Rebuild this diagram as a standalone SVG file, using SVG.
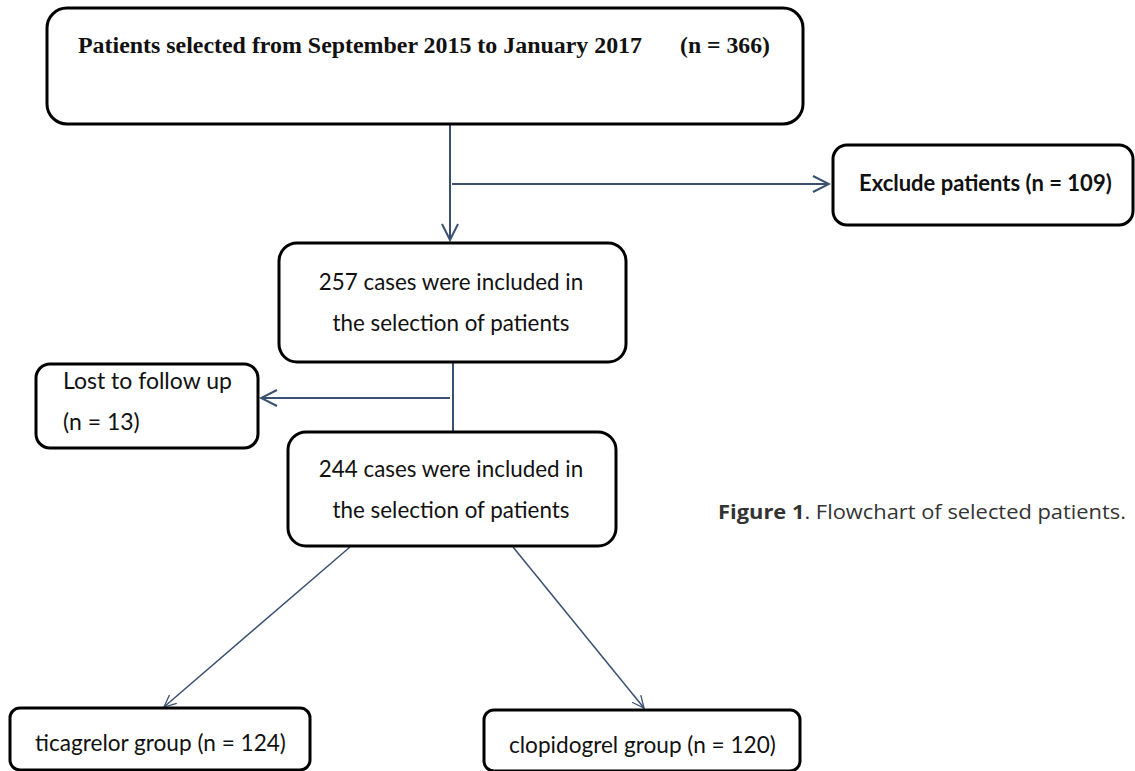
<svg xmlns="http://www.w3.org/2000/svg" width="1135" height="771" viewBox="0 0 1135 771">
<style>
.box{fill:#fff;stroke:#000;stroke-width:3}
.t{font-family:Lato,"Open Sans",sans-serif;fill:#111}
.c{stroke:#3a5070;stroke-width:2;fill:none}
.c2{stroke:#3a5070;stroke-width:1.5;fill:none}
</style>
<defs>
<marker id="ah" viewBox="0 0 20 20" refX="18" refY="10" markerWidth="20" markerHeight="20" markerUnits="userSpaceOnUse" orient="auto">
<path d="M2,2 L18,10 L2,18" fill="none" stroke="#3a5070" stroke-width="2"/>
</marker>
<marker id="ah2" viewBox="0 0 20 20" refX="18" refY="10" markerWidth="16" markerHeight="16" markerUnits="userSpaceOnUse" orient="auto">
<path d="M3,3 L18,10 L3,17" fill="none" stroke="#3a5070" stroke-width="1.6"/>
</marker>
</defs>
<rect width="1135" height="771" fill="#fff"/>
<g id="connectors">
<path class="c" d="M450,124 V240" marker-end="url(#ah)"/>
<path class="c" d="M452,184 H829" marker-end="url(#ah)"/>
<path class="c" d="M453,362 V432"/>
<path class="c" d="M450,398 H261" marker-end="url(#ah)"/>
<path class="c2" d="M350,547 L164,707" marker-end="url(#ah2)"/>
<path class="c2" d="M513,547 L644,708" marker-end="url(#ah2)"/>
</g>
<g id="n1">
<rect class="box" x="47" y="8" width="756" height="116" rx="20"/>
<text x="78" y="53" font-family="Liberation Serif,serif" font-weight="bold" font-size="24" textLength="564" lengthAdjust="spacingAndGlyphs" fill="#111">Patients selected from September 2015 to January 2017</text>
<text x="680" y="53" font-family="Liberation Serif,serif" font-weight="bold" font-size="24" textLength="90" lengthAdjust="spacingAndGlyphs" fill="#111">(n = 366)</text>
</g>
<g id="n2">
<rect class="box" x="833" y="145" width="300" height="80" rx="14"/>
<text class="t" x="859" y="191" style="font-size:22px;font-weight:bold">Exclude patients (n = 109)</text>
</g>
<g id="n3">
<rect class="box" x="279" y="243" width="347" height="119" rx="18"/>
<text class="t" x="451" y="290" text-anchor="middle" style="font-size:22.4px">257 cases were included in</text>
<text class="t" x="451" y="331" text-anchor="middle" style="font-size:22.4px">the selection of patients</text>
</g>
<g id="n4">
<rect class="box" x="36" y="364" width="222" height="84" rx="14"/>
<text class="t" x="63" y="389" style="font-size:23px">Lost to follow up</text>
<text class="t" x="63" y="430" style="font-size:23px">(n = 13)</text>
</g>
<g id="n5">
<rect class="box" x="288" y="432" width="328" height="114" rx="18"/>
<text class="t" x="451" y="477" text-anchor="middle" style="font-size:22.4px">244 cases were included in</text>
<text class="t" x="451" y="518" text-anchor="middle" style="font-size:22.4px">the selection of patients</text>
</g>
<g id="n6">
<rect class="box" x="10" y="708" width="300" height="62" rx="10"/>
<text class="t" x="35" y="751" style="font-size:22.6px">ticagrelor group (n = 124)</text>
</g>
<g id="n7">
<rect class="box" x="484" y="710" width="316" height="61" rx="10"/>
<text class="t" x="509" y="753" style="font-size:22.6px">clopidogrel group (n = 120)</text>
</g>
<g id="caption">
<text x="718" y="519" font-family="Open Sans,sans-serif" font-size="20" textLength="408" lengthAdjust="spacingAndGlyphs" fill="#333"><tspan font-weight="bold">Figure 1</tspan>. Flowchart of selected patients.</text>
</g>
</svg>
